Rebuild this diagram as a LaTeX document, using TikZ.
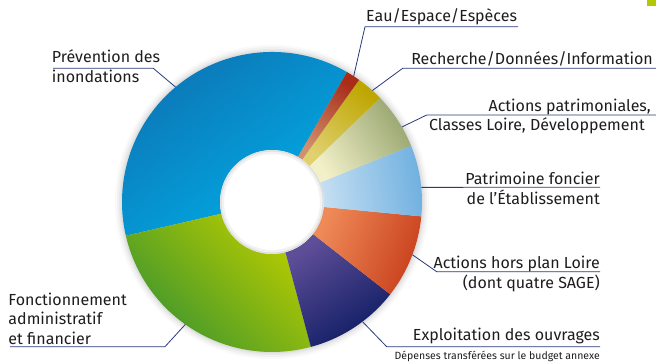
\documentclass[tikz,border=0pt]{standalone}
\usepackage{fontspec}
\setmainfont{Fira Sans}
\definecolor{leadercol}{HTML}{2B3879}
\definecolor{txtcol}{HTML}{1E1C1D}
\definecolor{cornercol}{HTML}{B4C800}
% slice colours: outer / middle / inner
\definecolor{prevA}{HTML}{0E72B2}\definecolor{prevB}{HTML}{00A5E0}\definecolor{prevC}{HTML}{00ACE6}
\definecolor{fadmA}{HTML}{3C952E}\definecolor{fadmB}{HTML}{9CC010}\definecolor{fadmC}{HTML}{B8CC00}
\definecolor{explA}{HTML}{0E1C62}\definecolor{explB}{HTML}{182A80}\definecolor{explC}{HTML}{5E4E98}
\definecolor{horsA}{HTML}{C8401C}\definecolor{horsB}{HTML}{E5501E}\definecolor{horsC}{HTML}{EF8A58}
\definecolor{foncA}{HTML}{6FB0E0}\definecolor{foncC}{HTML}{C4DEF2}
\definecolor{patrA}{HTML}{98A670}\definecolor{patrC}{HTML}{F2F0C8}
\definecolor{rechA}{HTML}{BEA600}\definecolor{rechC}{HTML}{E0D070}
\definecolor{eauA}{HTML}{A82C18}\definecolor{eauC}{HTML}{D0906C}
\begin{document}
\begin{tikzpicture}[x=1pt,y=1pt,font=\fontsize{16}{19.5}\selectfont,
  leader/.style={draw=leadercol,line width=0.8pt},
  lbl/.style={inner sep=0pt,text=txtcol},
  lblr/.style={lbl,align=right},
  lbll/.style={lbl,align=left}]
  \useasboundingbox (0,0) rectangle (656,362);
  \fill[cornercol] (647.3,356) rectangle (656,362);
  \coordinate (c) at (272,160);
  % soft halo round the ring
  \foreach \r/\o in {157/0.025,155/0.03,153/0.035,151.5/0.045}
    \fill[black,opacity=\o] (c) circle[radius=\r];
  % slices
  \shade[top color=prevA,middle color=prevB,bottom color=prevC,shading angle=35]
    ([shift={(60:150)}]c) arc[start angle=60,end angle=193,radius=150] -- ([shift={(193:52)}]c) arc[start angle=193,end angle=60,radius=52] -- cycle;
  \shade[top color=fadmA,middle color=fadmB,bottom color=fadmC,shading angle=135]
    ([shift={(193:150)}]c) arc[start angle=193,end angle=285,radius=150] -- ([shift={(285:52)}]c) arc[start angle=285,end angle=193,radius=52] -- cycle;
  \shade[top color=explA,middle color=explB,bottom color=explC,shading angle=213]
    ([shift={(285:150)}]c) arc[start angle=285,end angle=322,radius=150] -- ([shift={(322:52)}]c) arc[start angle=322,end angle=285,radius=52] -- cycle;
  \shade[top color=horsA,middle color=horsB,bottom color=horsC,shading angle=248]
    ([shift={(322:150)}]c) arc[start angle=322,end angle=354.5,radius=150] -- ([shift={(354.5:52)}]c) arc[start angle=354.5,end angle=322,radius=52] -- cycle;
  \shade[top color=foncA,bottom color=foncC,shading angle=-82]
    ([shift={(-5.5:150)}]c) arc[start angle=-5.5,end angle=22,radius=150] -- ([shift={(22:52)}]c) arc[start angle=22,end angle=-5.5,radius=52] -- cycle;
  \shade[top color=patrA,bottom color=patrC,shading angle=-57]
    ([shift={(22:150)}]c) arc[start angle=22,end angle=44,radius=150] -- ([shift={(44:52)}]c) arc[start angle=44,end angle=22,radius=52] -- cycle;
  \shade[top color=rechA,bottom color=rechC,shading angle=-41]
    ([shift={(44:150)}]c) arc[start angle=44,end angle=54.5,radius=150] -- ([shift={(54.5:52)}]c) arc[start angle=54.5,end angle=44,radius=52] -- cycle;
  \shade[top color=eauA,bottom color=eauC,shading angle=-33]
    ([shift={(54.5:150)}]c) arc[start angle=54.5,end angle=60,radius=150] -- ([shift={(60:52)}]c) arc[start angle=60,end angle=54.5,radius=52] -- cycle;
  % hole
  \fill[white] (c) circle[radius=52];
  \draw[black,opacity=0.12,line width=1.5pt] (c) circle[radius=51.2];
  \draw[black,opacity=0.05,line width=2.5pt] (c) circle[radius=49.2];
  % labels
  \node[lbl,anchor=base west] (eau) at (366,340.3) {Eau/Espace/Espèces};
  \node[lbl,anchor=base east] (rech) at (653,297) {Recherche/Données/Information};
  \node[lblr,anchor=base east] (patr) at (651,231.3) {Actions patrimoniales,\\Classes Loire, Développement\kern6pt};
  \node[lblr,anchor=base east] (fonc) at (600,157.7) {Patrimoine foncier\\de l’Établissement};
  \node[lblr,anchor=base east] (hors) at (600,73.7) {Actions hors plan Loire\\(dont quatre SAGE)};
  \node[lbl,anchor=base east] (expl) at (600,22) {Exploitation des ouvrages};
  \node[lbl,anchor=base east,font=\fontsize{10.5}{12}\selectfont] (budg) at (600,3) {Dépenses transférées sur le budget annexe};
  \node[lbll,anchor=base west] (prev) at (51.7,279.7) {Prévention des\\inondations};
  \node[lbll,anchor=base west] (fadm) at (8.3,17.7) {Fonctionnement\\administratif\\et financier};
  % leader lines
  \coordinate (eau-p) at ([shift={(57:150)}]c);
  \coordinate (eau-e) at (365,335.3);
  \coordinate (eau-f) at (518,335.3);
  \coordinate (rech-p) at ([shift={(48:150)}]c);
  \coordinate (rech-e) at (402.7,293.7);
  \coordinate (rech-f) at (656,293.7);
  \coordinate (patr-p) at ([shift={(30:150)}]c);
  \coordinate (patr-e) at (426.7,247);
  \coordinate (patr-f) at (656,247);
  \coordinate (fonc-p) at ([shift={(5.6:150)}]c);
  \coordinate (fonc-f) at (600,174.7);
  \coordinate (hors-p) at ([shift={(-20.6:150)}]c);
  \coordinate (hors-e) at (436.7,90.3);
  \coordinate (hors-f) at (600,90.3);
  \coordinate (expl-p) at ([shift={(-52.9:150)}]c);
  \coordinate (expl-e) at (386.7,15.3);
  \coordinate (expl-f) at (600,15.3);
  \coordinate (prev-p) at ([shift={(130:150)}]c);
  \coordinate (prev-e) at (153.3,293.7);
  \coordinate (prev-f) at (53,293.7);
  \coordinate (fadm-p) at ([shift={(234.7:150)}]c);
  \coordinate (fadm-e) at (165,15.3);
  \coordinate (fadm-f) at (10,15.3);
  \draw[leader] (eau-p) -- (eau-e) -- (eau-f);
  \draw[leader] (rech-p) -- (rech-e) -- (rech-f);
  \draw[leader] (patr-p) -- (patr-e) -- (patr-f);
  \draw[leader] (fonc-p) -- (fonc-f);
  \draw[leader] (hors-p) -- (hors-e) -- (hors-f);
  \draw[leader] (expl-p) -- (expl-e) -- (expl-f);
  \draw[leader] (prev-p) -- (prev-e) -- (prev-f);
  \draw[leader] (fadm-p) -- (fadm-e) -- (fadm-f);
\end{tikzpicture}
\end{document}
